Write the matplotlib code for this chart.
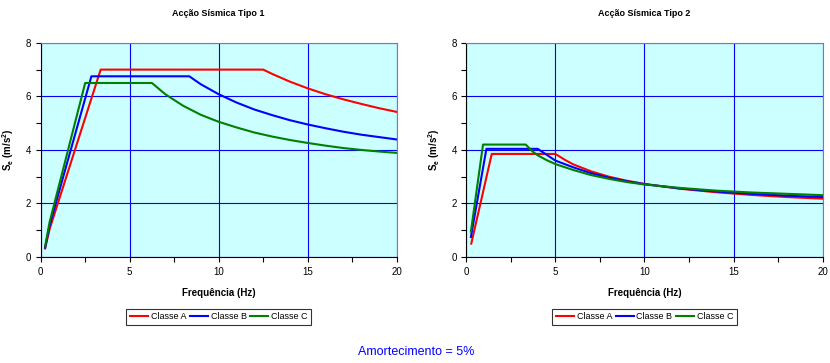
import matplotlib
matplotlib.use("Agg")
import matplotlib.pyplot as plt
from matplotlib.ticker import MultipleLocator

plt.rcParams['font.family'] = ['Liberation Sans', 'DejaVu Sans']
plt.rcParams['mathtext.fontset'] = 'custom'
plt.rcParams['mathtext.rm'] = 'Liberation Sans'
plt.rcParams['mathtext.bf'] = 'Liberation Sans:bold'

# Accao sismica tipo 1
t1_a_f = [0.25, 0.5, 3.37, 12.5, 13, 14, 15, 16, 17, 18, 19, 20]
t1_a_s = [0.32, 1.04, 7.0, 7.0, 6.84, 6.55, 6.3, 6.08, 5.89, 5.72, 5.56, 5.42]
t1_b_f = [0.25, 0.5, 2.85, 8.35, 9, 10, 11, 12, 13, 14, 15, 16, 17, 18, 19, 20]
t1_b_s = [0.35, 1.18, 6.75, 6.75, 6.45, 6.08, 5.77, 5.51, 5.30, 5.11, 4.95, 4.81, 4.68, 4.57, 4.48, 4.39]
t1_c_f = [0.25, 0.5, 2.5, 6.25, 7, 8, 9, 10, 11, 12, 13, 14, 15, 16, 17, 18, 19, 20]
t1_c_s = [0.4, 1.3, 6.5, 6.5, 6.08, 5.65, 5.31, 5.05, 4.84, 4.65, 4.5, 4.37, 4.26, 4.16, 4.07, 4.0, 3.94, 3.89]

# Accao sismica tipo 2
t2_a_f = [0.27, 1.42, 5.0, 5.5, 6, 7, 8, 9, 10, 12, 14, 16, 18, 20]
t2_a_s = [0.5, 3.85, 3.85, 3.64, 3.46, 3.2, 3.0, 2.85, 2.73, 2.55, 2.42, 2.32, 2.24, 2.18]
t2_b_f = [0.25, 1.12, 4.0, 4.5, 5, 6, 7, 8, 9, 10, 12, 14, 16, 18, 20]
t2_b_s = [0.75, 4.04, 4.04, 3.82, 3.6, 3.35, 3.13, 2.96, 2.83, 2.72, 2.56, 2.45, 2.36, 2.29, 2.24]
t2_c_f = [0.25, 0.93, 3.33, 3.7, 4, 4.5, 5, 6, 7, 8, 9, 10, 12, 14, 16, 18, 20]
t2_c_s = [0.95, 4.2, 4.2, 3.95, 3.8, 3.62, 3.47, 3.25, 3.06, 2.92, 2.8, 2.71, 2.58, 2.48, 2.41, 2.36, 2.31]

labels = ['Classe A', 'Classe B', 'Classe C']
colors = ['#FF0000', '#0000FF', '#008000']
titles = ['Acção Sísmica Tipo 1', 'Acção Sísmica Tipo 2']

series = [
    [(t1_a_f, t1_a_s), (t1_b_f, t1_b_s), (t1_c_f, t1_c_s)],
    [(t2_a_f, t2_a_s), (t2_b_f, t2_b_s), (t2_c_f, t2_c_s)],
]

fig = plt.figure(figsize=(8.3, 3.63), dpi=100)
positions = [[0.049, 0.292, 0.429, 0.59], [0.562, 0.292, 0.429, 0.59]]

for pos, title, data in zip(positions, titles, series):
    ax = fig.add_axes(pos)
    ax.set_facecolor('#CCFFFF')
    for (f, s), lab, col in zip(data, labels, colors):
        ax.plot(f, s, color=col, lw=1.5, label=lab)
    ax.set_xlim(0, 20)
    ax.set_ylim(0, 8)
    ax.xaxis.set_major_locator(MultipleLocator(5))
    ax.xaxis.set_minor_locator(MultipleLocator(2.5))
    ax.yaxis.set_major_locator(MultipleLocator(2))
    ax.yaxis.set_minor_locator(MultipleLocator(1))
    ax.grid(True, which='major', color='#0000FF', lw=0.8)
    ax.set_axisbelow(True)
    ax.tick_params(which='both', direction='out', labelsize=7, colors='black', width=0.8)
    ax.tick_params(which='major', length=3.5)
    ax.tick_params(which='minor', length=3.5)
    for side in ['top', 'right']:
        ax.spines[side].set_color('#808080')
    for side in ['left', 'bottom']:
        ax.spines[side].set_color('black')
    ax.set_title(title, fontsize=6.5, fontweight='bold', pad=0, y=1.125)
    ax.set_xlabel('Frequência (Hz)', fontsize=7, fontweight='bold', labelpad=8)
    ax.set_ylabel(r'S$_\mathregular{e}$ (m/s$^\mathregular{2}$)', fontsize=7, fontweight='bold', labelpad=7)
    leg = ax.legend(loc='center', bbox_to_anchor=(0.5, -0.28), ncol=3, fontsize=6.5,
                    frameon=True, fancybox=False, edgecolor='black', handlelength=2.0,
                    handletextpad=0.3, columnspacing=0.4, borderpad=0.4)
    leg.get_frame().set_linewidth(0.8)

fig.text(0.501, 0.03, 'Amortecimento = 5%', color='#0000FF', fontsize=9, ha='center', va='center')

fig.savefig('out.png', dpi=100)
